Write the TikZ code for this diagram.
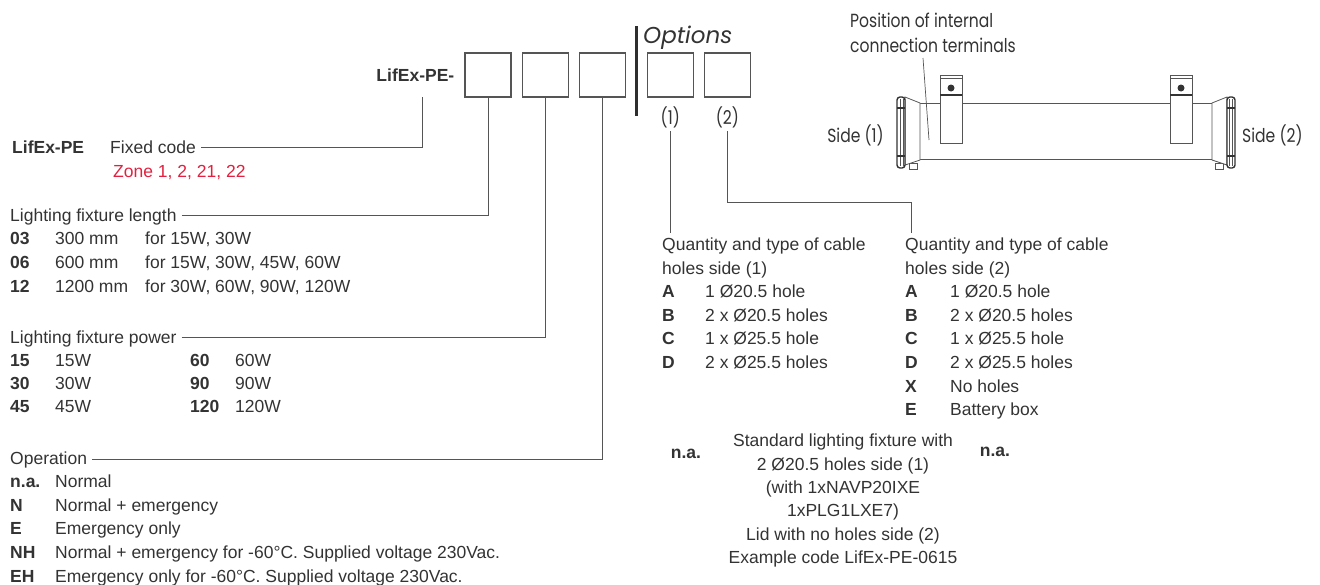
\documentclass[tikz,border=0pt]{standalone}
\usepackage{fontspec}
\setmainfont{Liberation Sans}
\newfontfamily\futfont[FakeStretch=0.82]{Poppins}
\newfontfamily\optfont{Poppins}
\usetikzlibrary{positioning,calc}
\definecolor{ink}{HTML}{333333}
\definecolor{zonered}{HTML}{E3203F}
\definecolor{rule}{HTML}{555555}
\tikzset{
  txt/.style={inner sep=0pt, text=ink, font=\fontsize{17.5}{23.3}\selectfont},
  code/.style={txt, font=\fontsize{17.5}{23.3}\selectfont\bfseries},
  fut/.style={inner sep=0pt, text=ink, font=\futfont\fontsize{19}{22}\selectfont},
  lead/.style={draw=rule, line width=0.9pt},
  slot/.style={draw=rule, line width=1.1pt, minimum width=46pt, minimum height=44pt, inner sep=0pt},
  part/.style={draw=rule, line width=0.8pt, fill=white},
}
\begin{document}
\begin{tikzpicture}[x=1pt, y=-1pt]
\useasboundingbox (0,0) rectangle (1320,584);

\node[slot] (b1) at (488,75) {};
\node[slot, right=10pt of b1] (b2) {};
\node[slot, right=10pt of b2] (b3) {};
\node[slot, right=21pt of b3] (b4) {};
\node[slot, right=10pt of b4] (b5) {};
\node[code, left=10pt of b1] (prefix) {LifEx-PE-};
\draw[ink!90!black, line width=3pt] ($(b3.east)!.5!(b4.west)$) ++(0,-49) -- ++(0,90);
\node[inner sep=0pt, text=ink, font=\optfont\itshape\fontsize{23}{26}\selectfont, anchor=base west] (opts) at (643,43) {Options};
\node[fut, below=9pt of b4] (s1) {(1)};
\node[fut, below=9pt of b5] (s2) {(2)};

% fixed code
\node[code, anchor=base west] (fixc) at (12,153) {LifEx-PE};
\node[txt, anchor=base west] (fixd) at (110,153) {Fixed code};
\node[txt, text=zonered, anchor=base west] (zone) at (113,177) {Zone 1, 2, 21, 22};
\draw[lead] ([xshift=5pt,yshift=6pt]fixd.base east) -| ([xshift=7pt,yshift=-15pt]prefix.south);

% length
\node[txt, anchor=base west] (lenh) at (10,221) {Lighting fixture length};
\foreach \c/\l/\w [count=\i] in {03/300 mm/{for 15W, 30W}, 06/600 mm/{for 15W, 30W, 45W, 60W}, 12/1200 mm/{for 30W, 60W, 90W, 120W}}{
  \node[code, anchor=base west] (lc\i) at (10,221+\i*23.7) {\c};
  \node[txt, anchor=base west] (ll\i) at (55,221+\i*23.7) {\l};
  \node[txt, anchor=base west] (lw\i) at (145,221+\i*23.7) {\w};
}
\draw[lead] ([xshift=5pt,yshift=6pt]lenh.base east) -| (b1.south);

% power
\node[txt, anchor=base west] (powh) at (10,343) {Lighting fixture power};
\foreach \a/\b/\c/\d [count=\i] in {15/15W/60/60W, 30/30W/90/90W, 45/45W/120/120W}{
  \node[code, anchor=base west] (pa\i) at (10,343+\i*23) {\a};
  \node[txt, anchor=base west] (pb\i) at (55,343+\i*23) {\b};
  \node[code, anchor=base west] (pc\i) at (190,343+\i*23) {\c};
  \node[txt, anchor=base west] (pd\i) at (235,343+\i*23) {\d};
}
\draw[lead] ([xshift=5pt,yshift=6pt]powh.base east) -| (b2.south);

% operation
\node[txt, anchor=base west] (oph) at (10,464) {Operation};
\foreach \c/\t [count=\i] in {n.a./Normal, N/Normal + emergency, E/Emergency only,
    NH/Normal + emergency for -60°C. Supplied voltage 230Vac., EH/Emergency only for -60°C. Supplied voltage 230Vac.}{
  \node[code, anchor=base west] (oc\i) at (10,464+\i*23.6) {\c};
  \node[txt, anchor=base west] (ot\i) at (55,464+\i*23.6) {\t};
}
\draw[lead] ([xshift=5pt,yshift=5pt]oph.base east) -| (b3.south);

% cable holes side (1)
\node[txt, anchor=base west] (qa) at (662,250) {Quantity and type of cable};
\node[txt, anchor=base west] (qa2) at (662,274) {holes side (1)};
\foreach \c/\t [count=\i] in {A/1 Ø20.5 hole, B/2 x Ø20.5 holes, C/1 x Ø25.5 hole, D/2 x Ø25.5 holes}{
  \node[code, anchor=base west] (ac\i) at (662,274+\i*23.6) {\c};
  \node[txt, anchor=base west] (at\i) at (705,274+\i*23.6) {\t};
}
\draw[lead] ([yshift=-3pt]s1.south) -- ([yshift=4pt]s1.south |- qa.north);

% cable holes side (2)
\node[txt, anchor=base west] (qb) at (905,250) {Quantity and type of cable};
\node[txt, anchor=base west] (qb2) at (905,274) {holes side (2)};
\foreach \c/\t [count=\i] in {A/1 Ø20.5 hole, B/2 x Ø20.5 holes, C/1 x Ø25.5 hole, D/2 x Ø25.5 holes, X/No holes, E/Battery box}{
  \node[code, anchor=base west] (bc\i) at (905,274+\i*23.6) {\c};
  \node[txt, anchor=base west] (bt\i) at (950,274+\i*23.6) {\t};
}
\coordinate (kink) at (911,202);
\draw[lead] ([yshift=-3pt]s2.south) |- (kink) -- ([yshift=4pt]kink |- qb.north);

% standard fixture
\node[txt, align=center, anchor=north] (std) at (843,434) {Standard lighting fixture with\\2 Ø20.5 holes side (1)\\(with 1xNAVP20IXE\\1xPLG1LXE7)\\Lid with no holes side (2)\\Example code LifEx-PE-0615};
\node[code, anchor=base] (nal) at (686,458) {n.a.};
\node[code, anchor=base] (nar) at (995,456) {n.a.};

% fixture drawing
\draw[rule, line width=0.8pt] (920,103) -- (1213,103) (920,159) -- (1213,159);
\foreach \s in {1,-1}{
  \begin{scope}[shift={(1066,0)}, xscale=\s]
    \draw[part] (-126,75) rectangle (-104,143);
    \draw[part] (-126,78) -- (-104,78);
    \draw[ink, line width=1.8pt] (-126,95) -- (-104,95);
    \fill[ink] (-115,88) circle (3.5pt);
    \draw[part] (-157,163) rectangle (-149,169);
    \draw[part] (-161,97) -- (-146,103) -- (-146,160) -- (-161,165) -- cycle;
    \draw[part, draw=ink, line width=1.4pt, rounded corners=3pt] (-169,97) rectangle (-161,168);
    \draw[rule, line width=0.7pt] (-166,99) -- (-166,166) (-163,99) -- (-163,166);
    \draw[ink, line width=1.6pt] (-169,108) -- (-161,108) (-169,156) -- (-161,156);
  \end{scope}
}
\node[fut, anchor=base west] (pit1) at (850,27) {Position of internal};
\node[fut, anchor=base west] (pit2) at (850,52) {connection terminals};
\coordinate (term) at (929,140);
\draw[lead, line width=0.7pt] ([xshift=73pt,yshift=-6pt]pit2.base west) -- (term);
\node[fut, anchor=base east] (sd1) at (884,142) {Side (1)};
\node[fut, anchor=base west] (sd2) at (1242,142) {Side (2)};
\end{tikzpicture}
\end{document}
